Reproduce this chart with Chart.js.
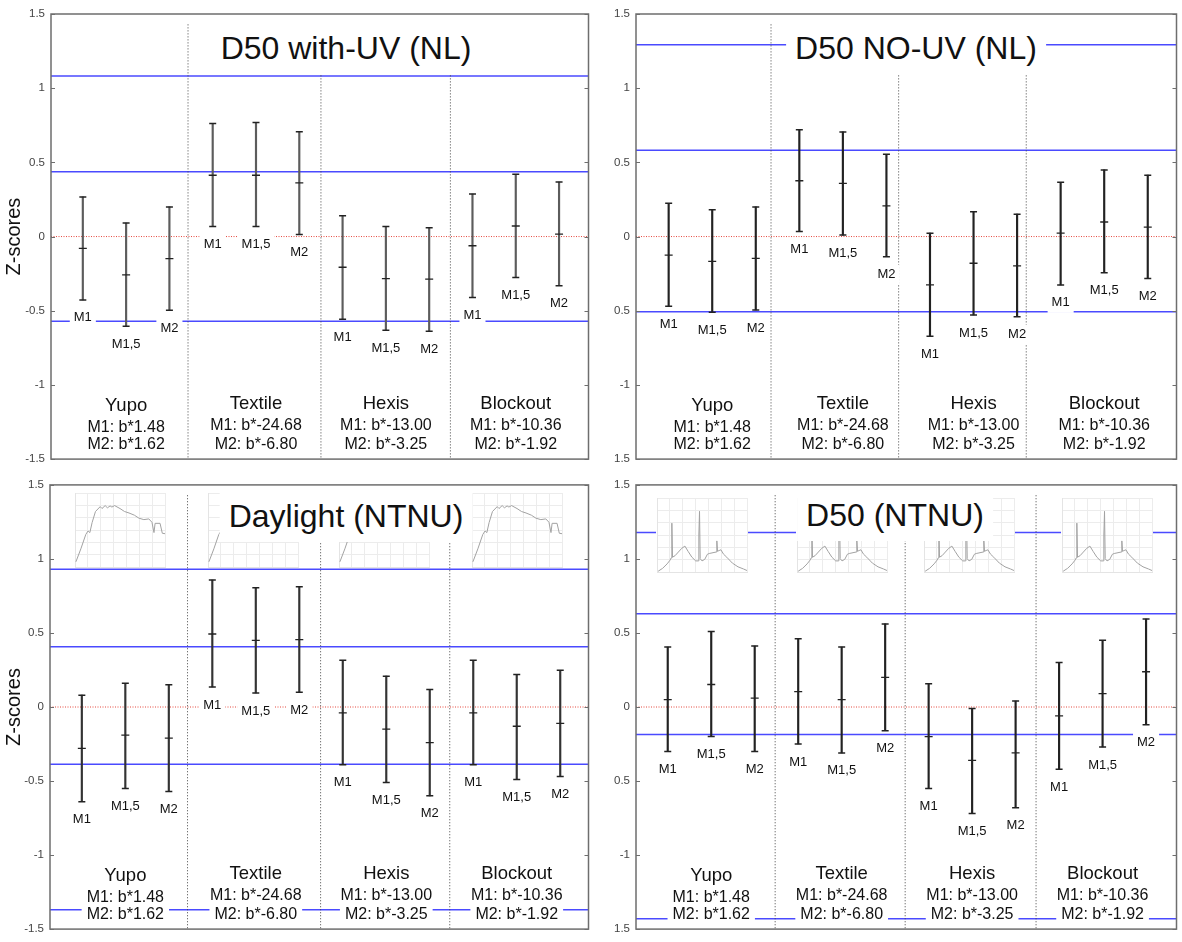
<!DOCTYPE html>
<html>
<head>
<meta charset="utf-8">
<title>Z-scores</title>
<script src="https://cdn.jsdelivr.net/npm/chart.js@4.4.1/dist/chart.umd.min.js"></script>
<style>
  html, body { margin: 0; padding: 0; background: #fff; }
  body { position: relative; width: 1182px; height: 942px; overflow: hidden; font-family: "Liberation Sans", Arial, sans-serif; }
  canvas { position: absolute; display: block; }
  .js-title { position: absolute; background: #fff; color: #111; font-size: 32px; line-height: 36px; padding: 8px 9px; white-space: nowrap; transform: translate(-50%, -50%); }
  .js-inset { background: #fff; }
</style>
</head>
<body>
<script>
// GENERAL
const FONT = '"Liberation Sans", Arial, sans-serif';
const materials = ["Yupo", "Textile", "Hexis", "Blockout"];
const m1Lines = ["M1: b*1.48", "M1: b*-24.68", "M1: b*-13.00", "M1: b*-10.36"];
const m2Lines = ["M2: b*1.62", "M2: b*-6.80", "M2: b*-3.25", "M2: b*-1.92"];
const methods = ["M1", "M1,5", "M2"];
const barPos = [1, 2, 3, 4, 5, 6, 7, 8, 9, 10, 11, 12];

// D50 with-UV (NL)
const uvLow  = [-0.427, -0.605, -0.496, 0.067, 0.067, 0.013, -0.558, -0.631, -0.638, -0.411, -0.276, -0.331];
const uvMean = [-0.080, -0.258, -0.149, 0.413, 0.413, 0.362, -0.207, -0.283, -0.287, -0.062, 0.071, 0.017];
const uvHigh = [0.267, 0.091, 0.200, 0.762, 0.769, 0.707, 0.140, 0.067, 0.060, 0.287, 0.420, 0.367];
const uvRefs = [1.082, 0.437, -0.571];
const uvDividers = [3.43, 6.5, 9.49];

// D50 NO-UV (NL)
const noUvLow  = [-0.470, -0.510, -0.495, 0.034, 0.010, -0.136, -0.672, -0.529, -0.540, -0.326, -0.244, -0.283];
const noUvMean = [-0.125, -0.167, -0.147, 0.376, 0.359, 0.207, -0.326, -0.180, -0.197, 0.023, 0.098, 0.063];
const noUvHigh = [0.224, 0.180, 0.200, 0.720, 0.705, 0.555, 0.023, 0.167, 0.151, 0.366, 0.449, 0.414];
const noUvRefs = [1.293, 0.581, -0.507];
const noUvDividers = [3.35, 6.28, 9.21];

// Daylight (NTNU)
const dayLow  = [-0.640, -0.550, -0.570, 0.135, 0.095, 0.100, -0.390, -0.510, -0.600, -0.390, -0.490, -0.470];
const dayMean = [-0.280, -0.190, -0.210, 0.493, 0.450, 0.455, -0.040, -0.150, -0.240, -0.040, -0.130, -0.110];
const dayHigh = [0.080, 0.160, 0.150, 0.857, 0.806, 0.812, 0.316, 0.208, 0.119, 0.316, 0.219, 0.248];
const dayRefs = [0.930, 0.407, -0.386, -1.370];
const dayDividers = [3.43, 6.49, 9.46];

// D50 (NTNU)
const d50Low  = [-0.300, -0.200, -0.300, -0.250, -0.310, -0.160, -0.550, -0.720, -0.680, -0.420, -0.270, -0.120];
const d50Mean = [0.050, 0.152, 0.060, 0.104, 0.050, 0.200, -0.200, -0.360, -0.310, -0.060, 0.090, 0.238];
const d50High = [0.405, 0.510, 0.412, 0.461, 0.405, 0.561, 0.157, -0.010, 0.040, 0.300, 0.450, 0.594];
const d50Refs = [1.179, 0.629, -0.185, -1.430];
const d50Dividers = [3.47, 6.46, 9.47];

// light source spectra shown as small insets
const daylightNm  = [384, 406, 428, 438, 446, 456, 471, 492, 500, 514, 524, 536, 544, 556, 580, 600, 620, 644, 664, 686, 708, 722, 731, 736, 758, 768, 780];
const daylightSpd = [0.07, 0.245, 0.44, 0.487, 0.465, 0.6, 0.75, 0.816, 0.79, 0.83, 0.80, 0.825, 0.81, 0.83, 0.79, 0.75, 0.73, 0.70, 0.66, 0.64, 0.65, 0.605, 0.465, 0.59, 0.59, 0.456, 0.45];
const d50Nm  = [385, 405, 425, 438, 443, 446, 449, 460, 475, 490, 504, 518, 535, 552, 563, 566, 569, 572, 580, 592, 604, 612, 643, 646, 649, 656, 664, 676, 690, 715, 740, 765, 780];
const d50Spd = [0.01, 0.05, 0.11, 0.16, 0.19, 0.66, 0.2, 0.22, 0.27, 0.32, 0.35, 0.28, 0.2, 0.15, 0.15, 0.5, 0.82, 0.18, 0.15, 0.17, 0.24, 0.25, 0.27, 0.42, 0.28, 0.29, 0.3, 0.24, 0.2, 0.12, 0.07, 0.04, 0.02];

const panels = [
  { title: "D50 with-UV (NL)", low: uvLow, mean: uvMean, high: uvHigh, refs: uvRefs, dividers: uvDividers,
    box: { left: 0, top: 0, width: 594, height: 472 }, axisW: 51, pad: { top: 14, right: 3, bottom: 8 },
    xRange: [0.265, 12.68], yTitle: true, titleAt: [346, 48], stem: "#5c5c5c" },
  { title: "D50 NO-UV (NL)", low: noUvLow, mean: noUvMean, high: noUvHigh, refs: noUvRefs, dividers: noUvDividers,
    box: { left: 594, top: 0, width: 588, height: 472 }, axisW: 42, pad: { top: 14, right: 1, bottom: 8 },
    xRange: [0.25, 12.66], yTitle: false, titleAt: [916, 48], stem: "#222" },
  { title: "Daylight (NTNU)", low: dayLow, mean: dayMean, high: dayHigh, refs: dayRefs, dividers: dayDividers,
    box: { left: 0, top: 472, width: 594, height: 470 }, axisW: 50, pad: { top: 10.5, right: 3, bottom: 7 },
    xRange: [0.268, 12.65], yTitle: true, titleAt: [346, 516], stem: "#333",
    spectrum: [daylightNm, daylightSpd], insetStart: [0.82, 3.87, 6.9, 9.94], insetTop: 7 },
  { title: "D50 (NTNU)", low: d50Low, mean: d50Mean, high: d50High, refs: d50Refs, dividers: d50Dividers,
    box: { left: 594, top: 472, width: 588, height: 470 }, axisW: 42, pad: { top: 10.5, right: 1, bottom: 7 },
    xRange: [0.27, 12.7], yTitle: false, titleAt: [895, 515], stem: "#222",
    spectrum: [d50Nm, d50Spd], insetStart: [0.74, 3.95, 6.88, 10.04], insetTop: 12.5 }
];

// FRAME with inward tick marks
const framePlugin = {
  id: "frame",
  afterDraw(chart) {
    const { ctx, chartArea: a, scales: { y } } = chart;
    ctx.save();
    ctx.strokeStyle = "#6e6e6e";
    ctx.lineWidth = 1.5;
    ctx.strokeRect(a.left, a.top, a.right - a.left, a.bottom - a.top);
    ctx.lineWidth = 1;
    ctx.beginPath();
    y.ticks.forEach(t => {
      const py = Math.round(y.getPixelForValue(t.value)) + 0.5;
      ctx.moveTo(a.left, py); ctx.lineTo(a.left + 4, py);
      ctx.moveTo(a.right, py); ctx.lineTo(a.right - 4, py);
    });
    ctx.stroke();
    ctx.restore();
  }
};

const boxText = (ctx, text, x, y, padX, halfH) => {
  const w = ctx.measureText(text).width;
  ctx.fillStyle = "#fff";
  ctx.fillRect(x - w / 2 - padX, y - halfH, w + 2 * padX, 2 * halfH);
  ctx.fillStyle = "#111";
  ctx.fillText(text, x, y);
};

// M1 / M1,5 / M2 under each bar + material captions
const labelPlugin = p => ({
  id: "labels",
  afterDatasetsDraw(chart) {
    const { ctx, chartArea: a, scales: { x, y } } = chart;
    ctx.save();
    ctx.textAlign = "center";
    ctx.textBaseline = "middle";
    ctx.font = "13px " + FONT;
    p.low.forEach((v, i) => {
      boxText(ctx, methods[i % 3], x.getPixelForValue(barPos[i]), y.getPixelForValue(v) + 18, 4, 10);
    });
    materials.forEach((name, g) => {
      const cx = x.getPixelForValue(barPos[g * 3 + 1]);
      const shift = g === 0 ? 2 : 0;
      ctx.font = "18.5px " + FONT;
      boxText(ctx, name, cx, a.bottom - 55 + shift, 5, 10);
      ctx.font = "16px " + FONT;
      boxText(ctx, m1Lines[g], cx, a.bottom - 34 + shift, 5, 9);
      boxText(ctx, m2Lines[g], cx, a.bottom - 14.5, 5, 9);
    });
    ctx.restore();
  }
});

const makePanel = p => {
  const canvas = document.createElement("canvas");
  canvas.width = p.box.width;
  canvas.height = p.box.height;
  canvas.style.left = p.box.left + "px";
  canvas.style.top = p.box.top + "px";
  document.body.appendChild(canvas);

  const [xMin, xMax] = p.xRange;
  const flat = (v, color, width, dash, order) => ({
    type: "line", order,
    data: [{ x: xMin, y: v }, { x: xMax, y: v }],
    borderColor: color, borderWidth: width, borderDash: dash, pointRadius: 0
  });

  const datasets = [
    { type: "scatter", order: 0, data: barPos.map((b, i) => ({ x: b, y: p.mean[i] })),
      pointStyle: "line", pointRadius: 4, borderColor: "#222", borderWidth: 1.3 },
    { type: "scatter", order: 1, data: barPos.map((b, i) => ({ x: b, y: p.low[i] })).concat(barPos.map((b, i) => ({ x: b, y: p.high[i] }))),
      pointStyle: "line", pointRadius: 3.5, borderColor: "#222", borderWidth: 1.5 },
    { type: "bar", order: 2, data: barPos.map((b, i) => ({ x: b, y: [p.low[i], p.high[i]] })),
      backgroundColor: p.stem, barThickness: 1.5, grouped: false }
  ];
  p.dividers.forEach(d => datasets.push({
    type: "line", order: 3, data: [{ x: d, y: 1.43 }, { x: d, y: -1.5 }],
    borderColor: "#444", borderWidth: 1, borderDash: [1, 2], pointRadius: 0
  }));
  p.refs.forEach(r => datasets.push(flat(r, "#4a4aff", 1.5, [], 4)));
  datasets.push(flat(0, "#e5483e", 1, [1, 1.5], 5));

  return new Chart(canvas, {
    type: "bar",
    data: { datasets },
    options: {
      responsive: false,
      animation: false,
      events: [],
      layout: { padding: { left: 0, top: p.pad.top, right: p.pad.right, bottom: p.pad.bottom } },
      plugins: { legend: { display: false }, tooltip: { enabled: false } },
      scales: {
        x: { type: "linear", min: xMin, max: xMax, offset: false, display: false },
        y: {
          min: -1.5, max: 1.5,
          afterFit: s => { s.width = p.axisW; },
          grid: { display: false, drawTicks: false },
          border: { display: false },
          ticks: {
            stepSize: 0.5, padding: 6, color: "#444", font: { size: 11.5, family: FONT },
            callback: v => (!p.yTitle && (v === -0.5 || v === -1.5)) ? String(-v) : String(v)
          },
          title: { display: p.yTitle, text: "Z-scores", color: "#111", font: { size: 20, family: FONT }, padding: { top: 2, bottom: 0 } }
        }
      }
    },
    plugins: [framePlugin, labelPlugin(p)]
  });
};

const makeInset = (p, chart, g) => {
  const c = document.createElement("canvas");
  c.width = 92;
  c.height = 76;
  c.className = "js-inset";
  c.style.left = (p.box.left + chart.scales.x.getPixelForValue(p.insetStart[g])) + "px";
  c.style.top = (p.box.top + chart.chartArea.top + p.insetTop) + "px";
  document.body.appendChild(c);
  const [nm, spd] = p.spectrum;
  new Chart(c, {
    type: "line",
    data: { datasets: [{ data: nm.map((n, i) => ({ x: n, y: spd[i] })), borderColor: "#a2a2a2", borderWidth: 1, pointRadius: 0 }] },
    options: {
      responsive: false, animation: false, events: [],
      layout: { padding: 1 },
      plugins: { legend: { display: false }, tooltip: { enabled: false } },
      scales: {
        x: { type: "linear", min: 380, max: 780, ticks: { display: false, stepSize: 400 / 7 }, grid: { color: "#ececec", drawTicks: false }, border: { color: "#e4e4e4" } },
        y: { min: 0, max: 1, ticks: { display: false, stepSize: 1 / 6 }, grid: { color: "#ececec", drawTicks: false }, border: { color: "#e4e4e4" } }
      }
    }
  });
};

const charts = panels.map(makePanel);
panels.forEach((p, k) => {
  if (p.spectrum) materials.forEach((m, g) => makeInset(p, charts[k], g));
});
panels.forEach(p => {
  const t = document.createElement("div");
  t.className = "js-title";
  t.textContent = p.title;
  t.style.left = p.titleAt[0] + "px";
  t.style.top = p.titleAt[1] + "px";
  document.body.appendChild(t);
});
</script>
</body>
</html>
